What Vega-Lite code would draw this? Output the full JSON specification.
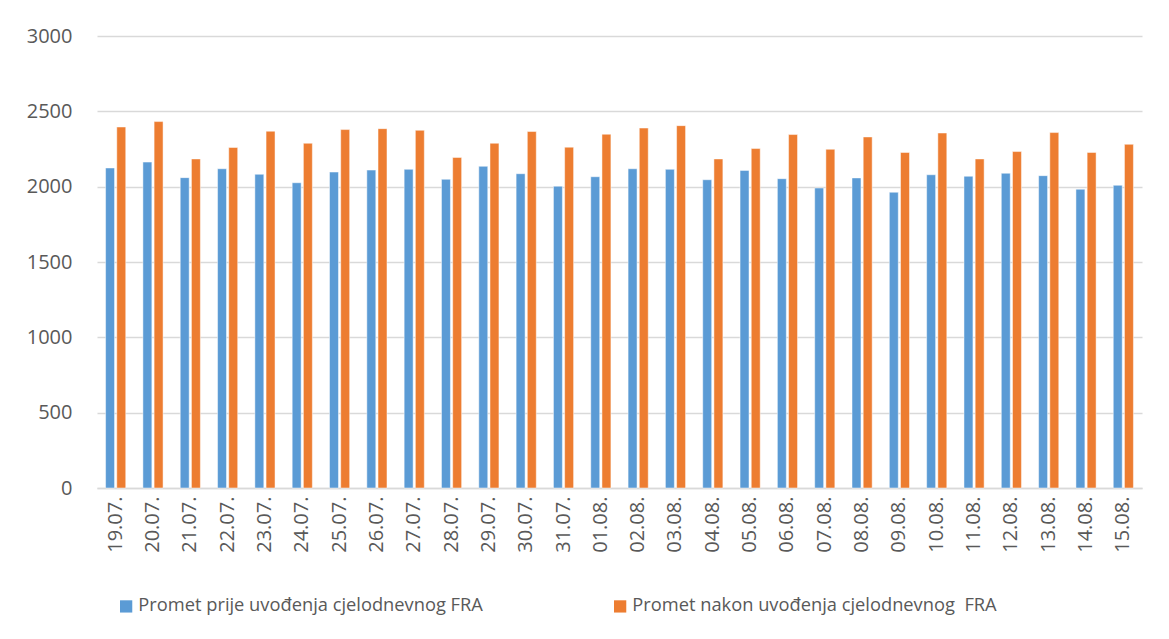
{
  "$schema": "https://vega.github.io/schema/vega-lite/v6.json",
  "autosize": "none",
  "width": 1045,
  "height": 452,
  "padding": {"left": 97, "top": 36, "right": 27, "bottom": 151},
  "background": "white",
  "config": {
    "font": "Open Sans",
    "view": {"stroke": null}
  },
  "datasets": {
    "raw": [
      {"d": "19.07.", "a": 2124, "b": 2396},
      {"d": "20.07.", "a": 2163, "b": 2432},
      {"d": "21.07.", "a": 2060, "b": 2184},
      {"d": "22.07.", "a": 2119, "b": 2260},
      {"d": "23.07.", "a": 2082, "b": 2368},
      {"d": "24.07.", "a": 2026, "b": 2288},
      {"d": "25.07.", "a": 2097, "b": 2379},
      {"d": "26.07.", "a": 2110, "b": 2385},
      {"d": "27.07.", "a": 2115, "b": 2374},
      {"d": "28.07.", "a": 2049, "b": 2194},
      {"d": "29.07.", "a": 2135, "b": 2288},
      {"d": "30.07.", "a": 2086, "b": 2366},
      {"d": "31.07.", "a": 2003, "b": 2262},
      {"d": "01.08.", "a": 2066, "b": 2348},
      {"d": "02.08.", "a": 2119, "b": 2389},
      {"d": "03.08.", "a": 2115, "b": 2405},
      {"d": "04.08.", "a": 2046, "b": 2184},
      {"d": "05.08.", "a": 2108, "b": 2253},
      {"d": "06.08.", "a": 2053, "b": 2346},
      {"d": "07.08.", "a": 1991, "b": 2248},
      {"d": "08.08.", "a": 2058, "b": 2330},
      {"d": "09.08.", "a": 1963, "b": 2227},
      {"d": "10.08.", "a": 2079, "b": 2356},
      {"d": "11.08.", "a": 2069, "b": 2184},
      {"d": "12.08.", "a": 2089, "b": 2233},
      {"d": "13.08.", "a": 2073, "b": 2359},
      {"d": "14.08.", "a": 1983, "b": 2227},
      {"d": "15.08.", "a": 2009, "b": 2281}
    ]
  },
  "data": {"name": "raw"},
  "transform": [
    {"fold": ["a", "b"], "as": ["key", "value"]},
    {"lookup": "key", "from": {"data": {"values": [
      {"key": "a", "series": "Promet prije uvođenja cjelodnevnog FRA"},
      {"key": "b", "series": "Promet nakon uvođenja cjelodnevnog\u00a0 FRA"}
    ]}, "key": "key", "fields": ["series"]}}
  ],
  "mark": {"type": "bar", "stroke": "white", "strokeWidth": 0.8, "strokeOpacity": 0.6},
  "encoding": {
    "x": {
      "field": "d", "type": "nominal", "sort": null,
      "scale": {"paddingInner": 0.46, "paddingOuter": 0.23},
      "axis": {
        "title": null, "labelAngle": -90, "labelFontSize": 20, "labelColor": "#595959",
        "ticks": false, "domainColor": "#D9D9D9", "domainWidth": 1.5, "labelPadding": 8
      }
    },
    "xOffset": {
      "field": "series", "type": "nominal", "sort": null,
      "scale": {"paddingInner": 0.2}
    },
    "y": {
      "field": "value", "type": "quantitative",
      "scale": {"domain": [0, 3000]},
      "axis": {
        "title": null, "values": [0, 500, 1000, 1500, 2000, 2500, 3000], "format": "d",
        "labelFontSize": 20, "labelColor": "#595959", "ticks": false, "domain": false,
        "gridColor": "#D9D9D9", "gridWidth": 1.5, "labelPadding": 25
      }
    },
    "color": {
      "field": "series", "type": "nominal", "sort": null,
      "scale": {"range": ["#5B9BD5", "#ED7D31"]},
      "legend": {
        "title": null, "orient": "none", "legendX": 20, "legendY": 561,
        "direction": "horizontal", "symbolType": "square", "symbolSize": 150,
        "symbolStrokeWidth": 0, "labelFontSize": 18.3, "labelColor": "#595959",
        "labelLimit": 600, "columnPadding": 128, "labelOffset": 3
      }
    }
  }
}
